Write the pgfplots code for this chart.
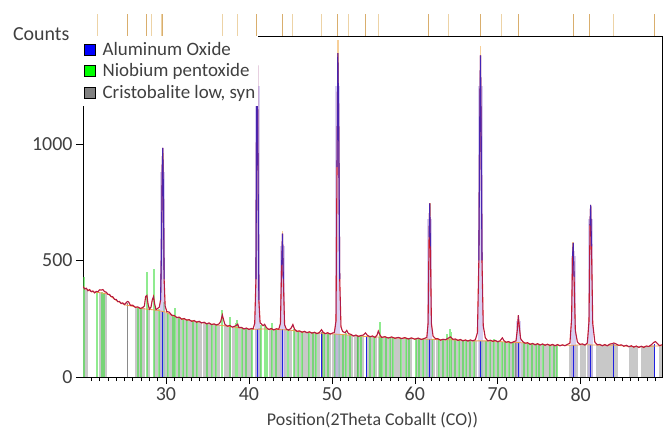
\documentclass[border=0pt]{standalone}
\usepackage{fontspec}
\setmainfont{Carlito}
\usepackage{pgfplots}
\usepackage{pgfplotstable}
\pgfplotsset{compat=1.18}

\definecolor{txt}{HTML}{404040}
\definecolor{stickgray}{HTML}{C8C8C8}
\definecolor{stickdark}{HTML}{8A8A8A}
\definecolor{stickgreen}{HTML}{44DD44}
\definecolor{stickblue}{HTML}{2020E0}
\definecolor{obsred}{HTML}{E01818}
\definecolor{calcblue}{HTML}{2828D0}
\definecolor{bgorange}{HTML}{F0A050}
\definecolor{peach}{HTML}{F7CF98}
\definecolor{lavender}{HTML}{B8A8E8}
\definecolor{reftan}{HTML}{D09A48}
\definecolor{reflight}{HTML}{EDD3A6}

% observed profile (counts vs 2theta)
\pgfplotstableread{
x y
20.0 388
20.2 378
20.4 381
20.6 370
20.8 375
21.0 366
21.2 369
21.4 361
21.6 367
21.8 366
22.0 374
22.2 373
22.4 375
22.6 366
22.8 364
23.0 355
23.2 354
23.4 345
23.6 344
23.8 333
24.0 333
24.2 323
24.4 324
24.6 315
24.8 318
25.0 311
25.2 318
25.35 324
25.5 322
25.7 308
26.0 308
26.3 299
26.6 301
26.9 294
27.2 298
27.4 305
27.55 345
27.7 350
27.85 312
28.0 291
28.2 300
28.35 330
28.5 345
28.65 312
28.8 289
29.0 294
29.2 300
29.35 330
29.45 520
29.55 900
29.62 983
29.7 760
29.78 420
29.9 305
30.1 281
30.4 278
30.7 265
31.0 264
31.3 255
31.6 257
31.9 248
32.2 251
32.5 244
32.8 246
33.1 239
33.4 242
33.7 235
34.0 239
34.3 232
34.6 235
34.9 228
35.2 232
35.5 225
35.8 228
36.1 223
36.4 228
36.6 238
36.8 266
36.95 245
37.1 226
37.4 218
37.7 221
38.0 214
38.3 218
38.5 222
38.65 227
38.8 212
39.1 213
39.4 206
39.7 210
40.0 204
40.3 208
40.5 206
40.7 230
40.85 420
40.95 1240
41.02 1400
41.1 900
41.2 330
41.35 232
41.5 228
41.7 220
41.9 226
42.1 212
42.4 204
42.7 208
43.0 202
43.3 207
43.6 205
43.8 230
43.95 480
44.05 615
44.15 420
44.3 225
44.5 206
44.8 201
45.1 210
45.3 225
45.5 205
45.8 196
46.1 198
46.4 192
46.7 196
47.0 190
47.3 194
47.6 188
47.9 192
48.2 186
48.5 191
48.75 203
48.95 192
49.2 186
49.5 190
49.8 184
50.1 189
50.3 190
50.5 240
50.62 900
50.72 1390
50.82 1100
50.95 420
51.1 215
51.3 195
51.6 190
51.8 200
52.0 186
52.3 183
52.6 176
52.9 180
53.2 174
53.5 178
53.8 180
54.05 189
54.3 178
54.6 173
54.9 176
55.2 170
55.45 180
55.6 197
55.8 180
56.0 170
56.4 173
56.8 167
57.2 172
57.6 166
58.0 170
58.4 165
58.8 169
59.2 163
59.6 168
60.0 162
60.4 167
60.8 161
61.2 166
61.45 170
61.6 230
61.72 600
61.8 745
61.88 560
62.0 230
62.2 175
62.5 164
62.8 164
63.1 158
63.4 162
63.7 160
64.0 166
64.3 172
64.6 162
64.9 163
65.2 157
65.5 161
65.8 155
66.1 159
66.4 154
66.7 159
67.0 155
67.3 160
67.55 190
67.72 500
67.85 1200
67.92 1380
68.0 1050
68.1 500
68.25 220
68.5 168
68.8 155
69.1 158
69.4 153
69.7 157
70.0 151
70.3 156
70.55 168
70.75 156
71.0 149
71.3 152
71.6 146
71.9 151
72.2 155
72.35 200
72.48 265
72.6 215
72.75 165
73.0 152
73.3 145
73.6 147
73.9 140
74.2 144
74.5 138
74.8 143
75.1 137
75.4 142
75.7 136
76.0 141
76.3 135
76.6 140
76.9 134
77.2 139
77.5 134
77.8 138
78.1 134
78.4 140
78.7 145
78.9 250
79.02 520
79.1 575
79.2 430
79.35 200
79.6 150
79.9 140
80.2 142
80.5 137
80.8 146
81.0 240
81.12 650
81.2 738
81.3 560
81.45 230
81.7 150
82.0 138
82.3 140
82.6 134
82.9 139
83.2 134
83.5 141
83.8 143
84.0 146
84.3 141
84.6 136
84.9 138
85.2 132
85.5 136
85.8 130
86.1 134
86.4 128
86.7 133
87.0 127
87.3 132
87.6 127
87.9 133
88.2 131
88.5 138
88.8 148
89.0 152
89.2 145
89.5 135
89.8 138
}\observed

\begin{document}
\begin{tikzpicture}
\begin{axis}[
    name=main,
    scale only axis,
    width=579bp, height=341bp,
    xmin=20, xmax=89.8,
    ymin=0, ymax=1463,
    xtick={30,40,...,80},
    minor xtick={21,22,...,89},
    ytick={0,500,1000},
    tick align=outside,
    xtick pos=bottom, ytick pos=left,
    major tick length=7bp, minor tick length=4bp,
    tick style={black, line width=0.6bp},
    axis line style={black, line width=0.8bp},
    ticklabel style={font=\fontsize{20}{22}\selectfont, text=txt},
    /pgf/number format/assume math mode=true,
    /pgf/number format/1000 sep={},
    xlabel={Position(2Theta Coballt (CO))},
    xlabel style={font=\fontsize{18}{20}\selectfont, text=txt, yshift=-4bp},
    legend image code/.code={\fill[#1] (0bp,-5.5bp) rectangle (11bp,5.5bp);},
    legend style={at={(0,1)}, anchor=north west, draw=none, fill=white,
        font=\fontsize{19}{21}\selectfont, text=txt,
        inner xsep=1bp, inner ysep=4bp, row sep=3bp,
        /tikz/every odd column/.append style={column sep=5bp}},
    legend cell align=left,
]
\addlegendimage{fill=blue}
\addlegendentry{Aluminum Oxide}
\addlegendimage{fill=green}
\addlegendentry{Niobium pentoxide}
\addlegendimage{fill=gray}
\addlegendentry{Cristobalite low, syn}

% Cristobalite low, syn (gray sticks)
\addplot[forget plot, ycomb, stickgray, line width=3.2bp] coordinates {
(20.2,380) (20.4,375) (22.1,360) (22.4,358) (22.7,355) (26.5,300) (26.9,296)
(27.3,294) (27.9,290) (28.8,286) (29.3,283) (30.1,276) (30.5,270) (30.9,263)
(31.4,257) (31.8,252) (32.3,248) (32.9,243) (33.2,241) (33.6,239) (34.1,236)
(34.6,233) (35.0,230) (35.4,228) (35.9,226) (36.3,224) (37.2,221) (37.6,219)
(38.1,216) (38.9,211) (39.4,209) (39.9,207) (40.2,206) (40.9,207) (41.3,210)
(42.6,205) (43.1,205) (43.5,205) (43.9,205) (44.4,204) (45.0,203) (45.6,200)
(46.1,196) (46.6,195) (47.0,193) (47.5,191) (47.9,190) (48.4,189) (49.3,188)
(49.7,187) (50.2,186) (50.6,185) (51.1,184) (51.5,183) (52.0,180) (52.4,179)
(52.9,177) (53.3,176) (53.7,175) (54.4,178) (54.8,174) (55.3,172) (55.8,172)
(56.3,171) (56.7,170) (57.2,170) (57.7,169) (58.1,168) (58.6,167) (59.1,167)
(59.5,166) (60.3,165) (60.7,164) (61.2,163) (61.8,163) (62.3,163) (62.7,162)
(63.2,160) (63.6,161) (64.1,162) (64.6,161) (65.0,160) (65.5,158) (65.9,157)
(66.4,157) (66.8,156) (67.3,156) (67.9,156) (68.4,156) (68.8,155) (69.3,155)
(69.8,154) (70.2,153) (70.7,152) (71.1,150) (71.6,149) (72.0,148) (72.5,148)
(73.0,148) (73.4,145) (73.9,143) (74.3,142) (74.8,141) (75.2,140) (75.7,139)
(76.1,138) (76.6,138) (77.0,137) (78.8,136) (79.1,136) (79.5,137) (80.1,139)
(80.5,139) (80.9,139) (81.3,139) (82.0,138) (82.4,137) (82.8,137) (83.2,137)
(83.6,139) (84.0,140) (84.3,139) (86.0,131) (86.4,131) (86.7,131) (87.5,130)
(87.9,130) (88.3,131) (88.6,138) (89.6,135)
};
\addplot[forget plot, ycomb, stickdark, line width=1.2bp] coordinates {
(25.4,318) (48.8,195) (53.1,176) (72.2,148)
};
% Niobium pentoxide (green sticks)
\addplot[forget plot, ycomb, stickgreen, opacity=0.6, line width=2bp] coordinates {
(20.1,430) (21.7,365) (22.3,365) (22.5,362) (26.6,298) (27.0,296) (27.7,450)
(28.5,465) (29.2,290) (29.8,320) (30.3,275) (30.8,265) (31.1,296) (31.6,255)
(32.0,252) (32.5,246) (33.3,240) (33.8,238) (34.9,231) (35.6,227) (36.0,226)
(36.8,288) (37.7,258) (38.4,230) (38.6,245) (39.2,212) (39.7,210) (40.4,208)
(41.5,225) (41.9,222) (42.2,206) (42.8,232) (43.3,205) (44.7,204) (45.4,205)
(45.9,198) (46.4,195) (47.2,192) (47.7,191) (48.1,190) (49.0,188) (49.5,187)
(50.4,186) (50.9,185) (51.3,184) (51.7,190) (52.2,180) (53.1,177) (53.5,176)
(54.6,175) (55.1,173) (55.8,237) (56.1,171) (56.5,171) (57.0,170) (57.4,170)
(58.3,168) (58.9,167) (59.3,166) (60.1,165) (60.5,164) (61.0,164) (61.5,163)
(62.1,165) (62.9,162) (63.4,161) (63.9,185) (64.2,206) (64.4,195) (64.8,165)
(65.3,159) (65.8,158) (66.2,157) (66.6,157) (67.1,156) (68.1,156) (68.6,156)
(69.1,160) (69.6,165) (70.0,154) (70.5,152) (70.9,151) (71.4,149) (71.8,148)
(73.2,147) (73.6,144) (74.1,143) (74.6,142) (75.0,141) (75.5,140) (76.3,138)
(76.8,137) (77.2,137)
};
% Aluminum Oxide (light columns and blue sticks)
\addplot[forget plot, ycomb, lavender, opacity=0.55, line width=5bp] coordinates {
(29.62,880) (41.02,1250) (44.05,560) (50.72,1250) (61.8,680)
(67.92,1250) (72.48,240) (79.1,520) (81.2,680)
};
\addplot[forget plot, ycomb, stickblue, line width=1.1bp] coordinates {
(29.6,280) (41.0,207) (44.1,205) (48.8,190) (54.2,175) (61.8,164)
(67.9,156) (72.5,148) (79.1,136) (81.2,139) (84.0,140) (88.9,140)
};
% light tops of the strongest peaks
\addplot[forget plot, peach, line width=1.6bp] coordinates {(29.62,880) (29.62,960)};
\addplot[forget plot, peach, line width=1.6bp] coordinates {(41.02,1150) (41.02,1395)};
\addplot[forget plot, peach, line width=1.6bp] coordinates {(44.05,560) (44.05,625)};
\addplot[forget plot, peach, line width=1.6bp] coordinates {(50.72,1200) (50.72,1445)};
\addplot[forget plot, peach, line width=1.6bp] coordinates {(61.8,690) (61.8,745)};
\addplot[forget plot, peach, line width=1.6bp] coordinates {(67.92,1300) (67.92,1418)};
\addplot[forget plot, peach, line width=1.6bp] coordinates {(79.1,530) (79.1,578)};
\addplot[forget plot, peach, line width=1.6bp] coordinates {(81.2,690) (81.2,740)};
% background
\addplot[forget plot, bgorange, line width=0.8bp] coordinates {
(20,385) (21,366) (22,362) (23,356) (24,328) (25,310) (26,303) (27,294)
(28,290) (29,286) (30,278) (31,260) (32,249) (33,242) (34,236) (35,229)
(36,224) (37,220) (38,215) (39,210) (40,206) (41,205) (42,206) (43,204)
(44,203) (45,201) (46,195) (47,192) (48,189) (49,187) (50,185) (51,183)
(52,180) (53,176) (54,174) (55,172) (56,171) (57,169) (58,167) (59,166)
(60,164) (61,163) (62,162) (63,160) (64,160) (65,159) (66,157) (67,155)
(68,155) (69,155) (70,153) (71,150) (72,148) (73,147) (74,142) (75,140)
(76,138) (77,136) (78,136) (79,136) (80,138) (81,138) (82,137) (83,136)
(84,137) (85,134) (86,131) (87,129) (88,130) (89,133) (89.8,134)
};
% observed (red) and calculated (blue, shown on the peaks)
\addplot[forget plot, obsred, line width=1.1bp] table[x=x, y=y] {\observed};
\addplot[forget plot, calcblue, opacity=0.45, line width=0.4bp] table[x=x, y=y] {\observed};
\addplot[forget plot, calcblue, opacity=0.75, line width=1.1bp,
    restrict x to domain=29.3:90, restrict y to domain=320:2000,
    unbounded coords=jump] table[x=x, y=y] {\observed};
\end{axis}

% reference pattern strip above the plot
\begin{axis}[
    scale only axis,
    width=579bp, height=22bp,
    at={(main.north west)}, anchor=south west,
    xmin=20, xmax=89.8, ymin=0, ymax=1,
    hide axis, clip=false,
]
\addplot[ycomb, reftan, line width=1bp, opacity=0.8] coordinates {
(25.4,1) (27.6,1) (29.6,1) (40.9,1) (44.1,1) (50.7,1) (54.0,1) (61.7,1)
(67.9,1) (72.5,1) (79.1,1) (81.1,1) (88.9,1)
};
\addplot[ycomb, reflight, line width=1bp] coordinates {
(21.8,1) (28.3,1) (29.5,1) (36.8,1) (38.6,1) (45.3,1) (48.7,1) (52.0,1)
(55.6,1) (64.1,1) (70.5,1) (83.9,1)
};
\end{axis}

\node[anchor=east, xshift=-10bp, yshift=2bp, font=\fontsize{20}{22}\selectfont, text=txt]
    at (main.north west) {Counts};
\path (main.south west) ++(-83bp,-53bp) rectangle ++(670bp,430bp);
\end{tikzpicture}
\end{document}
